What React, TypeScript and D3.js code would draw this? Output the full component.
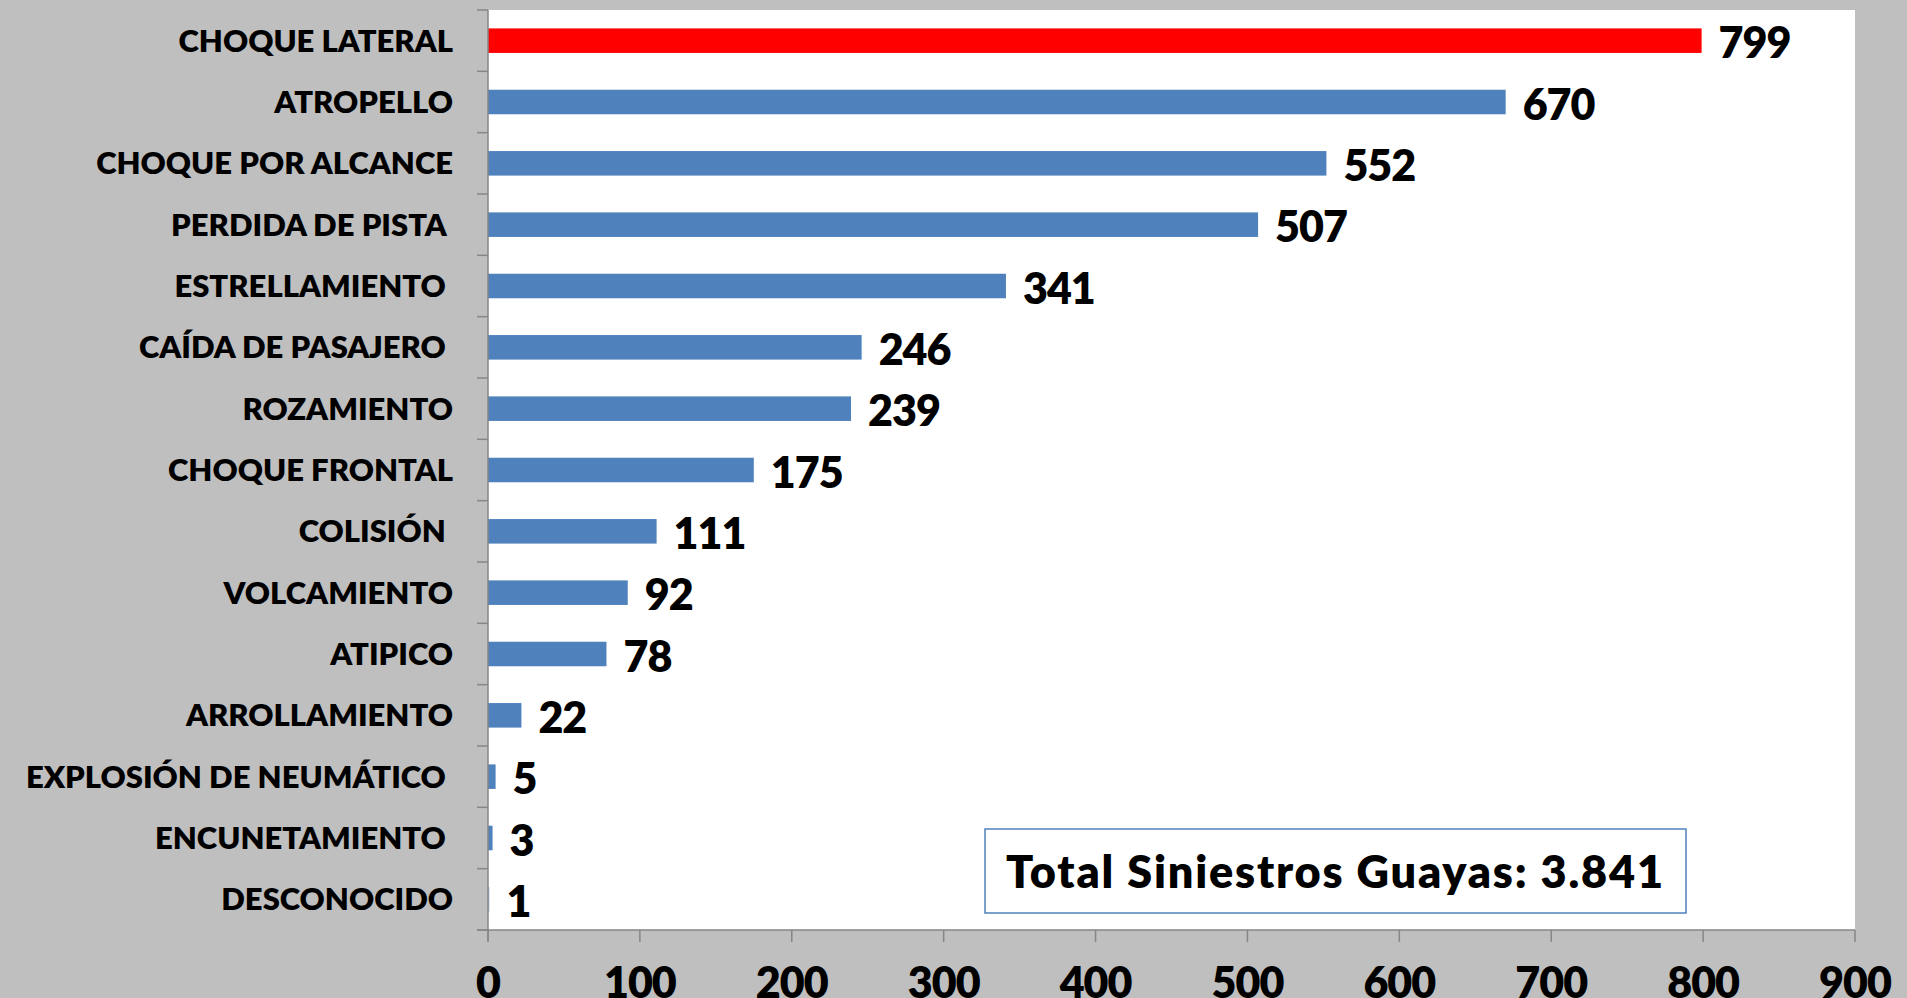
import React from "react";
import * as d3 from "d3";

const categories = [
  "CHOQUE LATERAL",
  "ATROPELLO",
  "CHOQUE POR ALCANCE",
  "PERDIDA DE PISTA ",
  "ESTRELLAMIENTO ",
  "CAÍDA DE PASAJERO ",
  "ROZAMIENTO",
  "CHOQUE FRONTAL",
  "COLISIÓN ",
  "VOLCAMIENTO",
  "ATIPICO",
  "ARROLLAMIENTO",
  "EXPLOSIÓN DE NEUMÁTICO ",
  "ENCUNETAMIENTO ",
  "DESCONOCIDO",
];
const values = [799, 670, 552, 507, 341, 246, 239, 175, 111, 92, 78, 22, 5, 3, 1];
const xTicks = [0, 100, 200, 300, 400, 500, 600, 700, 800, 900];
const totalLabel = "Total Siniestros Guayas: 3.841";

const W = 1907;
const H = 998;
const plot = { left: 488, right: 1855, top: 10, bottom: 930 };
const FONT = "Lato, 'Open Sans', sans-serif";

export default function App() {
  const x = d3.scaleLinear().domain([0, 900]).range([plot.left, plot.right]);
  const y = d3
    .scaleBand<string>()
    .domain(categories)
    .range([plot.top, plot.bottom])
    .paddingInner(0.6)
    .paddingOuter(0.3);
  const step = y.step();
  const boundaries = d3.range(categories.length + 1).map((i) => plot.top + i * step);

  return (
    <div style={{ position: "absolute", left: 0, top: 0 }}>
      <svg width={W} height={H} style={{ display: "block" }}>
        <rect x={0} y={0} width={W} height={H} fill="#BFBFBF" />
        <rect
          x={plot.left}
          y={plot.top}
          width={plot.right - plot.left}
          height={plot.bottom - plot.top}
          fill="#FFFFFF"
        />
        {categories.map((c, i) => (
          <rect
            key={c}
            x={x(0)}
            y={y(c)!}
            width={x(values[i]) - x(0)}
            height={y.bandwidth()}
            fill={i === 0 ? "#FF0000" : i === categories.length - 1 ? "#B9CDE5" : "#4F81BD"}
          />
        ))}
        {/* y axis */}
        <line x1={plot.left} x2={plot.left} y1={plot.top} y2={plot.bottom + 11} stroke="#868686" strokeWidth={1.5} />
        {boundaries.map((b, i) => (
          <line key={i} x1={plot.left - 11} x2={plot.left} y1={b} y2={b} stroke="#868686" strokeWidth={1.5} />
        ))}
        {/* x axis */}
        <line x1={plot.left - 11} x2={plot.right} y1={plot.bottom} y2={plot.bottom} stroke="#868686" strokeWidth={1.5} />
        {xTicks.map((t) => (
          <line key={t} x1={x(t)} x2={x(t)} y1={plot.bottom} y2={plot.bottom + 12} stroke="#868686" strokeWidth={1.5} />
        ))}
        {xTicks.map((t) => (
          <text
            key={"l" + t}
            x={x(t)}
            y={981}
            textAnchor="middle"
            dominantBaseline="central"
            fontFamily={FONT}
            fontWeight={800}
            fontSize={43}
            letterSpacing={-1}
            fill="#000"
          >
            {t}
          </text>
        ))}
        {categories.map((c) => (
          <text
            key={"c" + c}
            x={453}
            y={y(c)! + y.bandwidth() / 2 - 1}
            textAnchor="end"
            dominantBaseline="central"
            fontFamily={FONT}
            fontWeight={800}
            fontSize={31}
            fill="#000"
            style={{ whiteSpace: "pre" }}
          >
            {c}
          </text>
        ))}
        {categories.map((c, i) => (
          <text
            key={"v" + c}
            x={x(values[i]) + 17}
            y={y(c)! + y.bandwidth() / 2 + 1}
            dominantBaseline="central"
            fontFamily={FONT}
            fontWeight={800}
            fontSize={43}
            letterSpacing={-1}
            fill="#000"
          >
            {values[i]}
          </text>
        ))}
        <rect x={985} y={829} width={701} height={84} fill="#FFFFFF" stroke="#4F81BD" strokeWidth={1.5} />
        <text
          x={1006}
          y={871}
          dominantBaseline="central"
          fontFamily={FONT}
          fontWeight={800}
          fontSize={45}
          letterSpacing={1.8}
          fill="#000"
        >
          {totalLabel}
        </text>
      </svg>
    </div>
  );
}
